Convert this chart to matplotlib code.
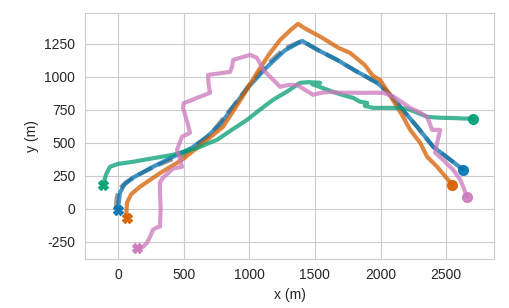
import matplotlib
matplotlib.use('Agg')
import matplotlib.pyplot as plt
import seaborn as sns
import numpy as np

# ground truth path (dashed gray) and the four estimated trajectories
gt_x = [-15, -10, 10, 60, 150, 300, 500, 700, 880, 1000, 1130, 1270, 1400, 1530, 1669, 1820, 1974, 2060, 2150, 2280, 2401, 2520, 2630]
gt_y = [0, 80, 150, 200, 255, 330, 410, 560, 780, 940, 1090, 1215, 1273, 1200, 1129, 1040, 955, 880, 773, 620, 470, 380, 295]

blue_x = [0, 5, 15, 50, 114, 250, 419, 560, 678, 780, 877, 1000, 1136, 1270, 1402, 1530, 1669, 1820, 1974, 2060, 2150, 2280, 2401, 2520, 2630]
blue_y = [-8, 40, 121, 185, 235, 310, 394, 460, 546, 640, 773, 930, 1076, 1200, 1273, 1200, 1129, 1040, 955, 880, 773, 620, 470, 380, 295]

orange_x = [69, 65, 69, 100, 168, 320, 488, 650, 800, 930, 1059, 1150, 1235, 1320, 1372, 1420, 1550, 1680, 1768, 1880, 1940, 1997, 2060, 2172, 2226, 2302, 2355, 2431, 2546]
orange_y = [-68, -20, 45, 110, 167, 270, 371, 500, 621, 820, 1030, 1170, 1280, 1360, 1402, 1370, 1300, 1220, 1182, 1090, 1010, 977, 880, 697, 598, 500, 394, 318, 182]

green_x = [-114, -90, -61, 0, 114, 250, 419, 600, 755, 870, 983, 1080, 1181, 1290, 1387, 1450, 1540, 1480, 1639, 1720, 1791, 1844, 1898, 1880, 1944, 2096, 2200, 2300, 2355, 2450, 2550, 2620, 2706]
green_y = [182, 260, 318, 340, 356, 380, 409, 460, 523, 600, 674, 750, 826, 890, 955, 960, 955, 945, 886, 860, 841, 811, 803, 780, 765, 765, 760, 720, 697, 690, 688, 685, 682]

pink_x = [145, 190, 221, 250, 267, 300, 320, 325, 320, 320, 343, 420, 488, 470, 450, 470, 488, 549, 530, 495, 500, 600, 701, 690, 686, 760, 854, 870, 877, 1006, 1059, 1110, 1180, 1235, 1300, 1364, 1486, 1550, 1616, 1700, 1780, 1867, 1950, 2020, 2100, 2226, 2300, 2355, 2393, 2454, 2431, 2416, 2477, 2553, 2607, 2660]
pink_y = [-295, -290, -258, -200, -159, -140, -136, 0, 120, 200, 235, 305, 318, 380, 447, 500, 546, 576, 650, 765, 800, 840, 879, 950, 1015, 1025, 1038, 1080, 1129, 1167, 1144, 1050, 980, 925, 939, 939, 864, 880, 886, 880, 880, 879, 880, 879, 850, 765, 730, 697, 598, 598, 500, 424, 371, 295, 220, 91]

sns.set_style('whitegrid')
plt.rcParams['font.family'] = ['Liberation Sans', 'DejaVu Sans']
plt.rcParams['axes.unicode_minus'] = False

fig, ax = plt.subplots(figsize=(5.09, 3.08), dpi=100)
fig.subplots_adjust(left=0.167, right=0.971, top=0.958, bottom=0.16)

ax.plot(gt_x, gt_y, color='dimgray', ls='--', lw=3, alpha=0.7)

traj = [
    (blue_x, blue_y, '#0173b2'),
    (orange_x, orange_y, '#d55e00'),
    (green_x, green_y, '#029e73'),
    (pink_x, pink_y, '#cc78bc'),
]
for xs, ys, c in traj:
    ax.plot(xs, ys, color=c, lw=3, alpha=0.75)
    ax.plot(xs[0], ys[0], marker='X', color=c, ms=7, alpha=0.9)
    ax.plot(xs[-1], ys[-1], marker='o', color=c, ms=7, alpha=0.9)

ax.set_xlim(-251, 2866)
ax.set_ylim(-379, 1485)
ax.set_xticks([0, 500, 1000, 1500, 2000, 2500])
ax.set_yticks([-250, 0, 250, 500, 750, 1000, 1250])
ax.tick_params(labelsize=10)
ax.set_xlabel('x (m)', fontsize=10)
ax.set_ylabel('y (m)', fontsize=10)

fig.savefig('out.png', dpi=100)
